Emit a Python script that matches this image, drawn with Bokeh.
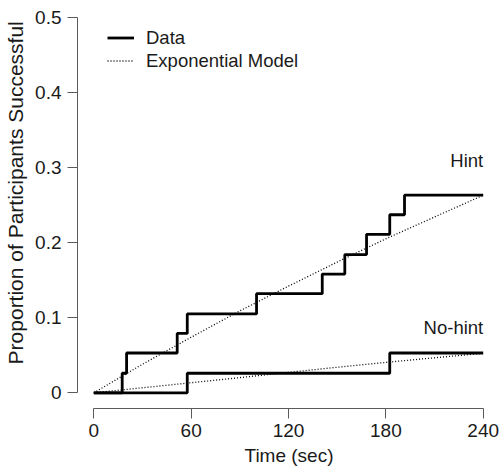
from bokeh.plotting import figure
from bokeh.models import Range1d, FixedTicker, Legend, LegendItem
from bokeh.core.properties import value
from bokeh.embed import file_html
from bokeh.resources import INLINE

# ---- data ----
hint_times = [0, 17.5, 20.2, 51.4, 57.6, 100.3, 140.8, 154.7, 168.1, 182.4, 191.5, 240]
hint_props = [0, 0.026, 0.053, 0.079, 0.105, 0.132, 0.158, 0.184, 0.211, 0.237, 0.263, 0.263]

nohint_times = [0, 57.6, 182.4, 240]
nohint_props = [0, 0.026, 0.053, 0.053]

model_times = [0, 30, 60, 90, 120, 150, 180, 210, 240]
hint_model = [0, 0.038, 0.074, 0.109, 0.142, 0.174, 0.205, 0.234, 0.263]
nohint_model = [0, 0.0067, 0.0134, 0.0202, 0.0272, 0.034, 0.0405, 0.0466, 0.0526]

x_ticks = [0, 60, 120, 180, 240]
y_ticks = [0, 0.1, 0.2, 0.3, 0.4, 0.5]
y_tick_labels = ["0", "0.1", "0.2", "0.3", "0.4", "0.5"]

FONT = "Liberation Sans"
INK = "#1a1a1a"
AXIS = "#5a5a5a"

p = figure(width=500, height=471, output_backend="svg", toolbar_location=None,
           x_range=Range1d(-10.05, 250.66), y_range=Range1d(-0.0209, 0.5222),
           min_border_left=77, min_border_right=0, min_border_top=0, min_border_bottom=63)
p.outline_line_color = None
p.xgrid.visible = False
p.ygrid.visible = False
p.background_fill_color = "white"

# data lines
r_data = p.step(hint_times, hint_props, mode="after", line_color="black", line_width=2.8)
p.step(nohint_times, nohint_props, mode="after", line_color="black", line_width=2.8)
r_model = p.line(model_times, hint_model, line_color="black", line_width=1.3, line_dash="1 2")
p.line(model_times, nohint_model, line_color="black", line_width=1.3, line_dash="1 2")

# annotations
p.text(x=[240], y=[0.309], text=["Hint"], text_align="right", text_baseline="alphabetic",
       text_font=value(FONT), text_font_size="18.5px", text_color=INK)
p.text(x=[240], y=[0.087], text=["No-hint"], text_align="right", text_baseline="alphabetic",
       text_font=value(FONT), text_font_size="18.5px", text_color=INK)

# legend
legend = Legend(items=[LegendItem(label="Data", renderers=[r_data]),
                       LegendItem(label="Exponential Model", renderers=[r_model])],
                location=(30, 336), glyph_width=27, glyph_height=23, label_height=23,
                label_standoff=12, spacing=0, padding=0, margin=0,
                background_fill_alpha=0, border_line_color=None,
                label_text_font=FONT, label_text_font_size="18.5px", label_text_color=INK)
p.add_layout(legend, "center")

# axes
for ax in (p.xaxis[0], p.yaxis[0]):
    ax.axis_line_color = AXIS
    ax.axis_line_width = 1
    ax.major_tick_line_color = AXIS
    ax.major_tick_out = 10
    ax.major_tick_in = 0
    ax.minor_tick_line_color = None
    ax.major_label_text_font = FONT
    ax.major_label_text_font_size = "19px"
    ax.major_label_text_color = INK
    ax.axis_label_text_font = FONT
    ax.axis_label_text_font_style = "normal"
    ax.axis_label_text_color = INK

p.xaxis[0].ticker = FixedTicker(ticks=x_ticks)
p.xaxis[0].bounds = (0, 240)
p.xaxis[0].major_label_standoff = 5
p.xaxis[0].axis_label = "Time (sec)"
p.xaxis[0].axis_label_text_font_size = "19px"
p.xaxis[0].axis_label_standoff = 5

p.yaxis[0].ticker = FixedTicker(ticks=y_ticks)
p.yaxis[0].bounds = (0, 0.5)
p.yaxis[0].major_label_overrides = dict(zip(y_ticks, y_tick_labels))
p.yaxis[0].major_label_standoff = 6
# leading no-break spaces nudge the centred title up, as in the reference
p.yaxis[0].axis_label = "\u00a0\u00a0\u00a0\u00a0Proportion of Participants Successful"
p.yaxis[0].axis_label_text_font_size = "21px"
p.yaxis[0].axis_label_standoff = 5

open("out.html", "w").write(file_html(p, INLINE))
